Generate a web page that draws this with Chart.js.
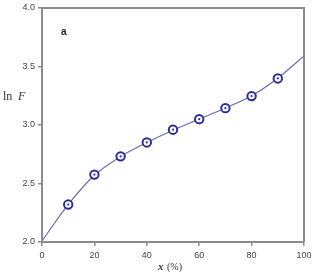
<!DOCTYPE html>
<html>
<head>
<meta charset="utf-8">
<script src="https://cdn.jsdelivr.net/npm/chart.js@4.4.0/dist/chart.umd.min.js"></script>
<style>
  html, body { margin: 0; padding: 0; background: #fff; }
  #wrap { width: 313px; height: 272px; position: relative; }
</style>
</head>
<body>
<div id="wrap"><canvas id="myChart"></canvas></div>
<script>
// fitted curve
var xCurve = [0, 10, 20, 30, 40, 50, 60, 70, 80, 90, 100];
var lnFCurve = [2.01, 2.32, 2.57, 2.73, 2.85, 2.955, 3.05, 3.145, 3.25, 3.40, 3.59];

// measured points
var xMeasured = [10, 20, 30, 40, 50, 60, 70, 80, 90];
var lnFMeasured = [2.32, 2.576, 2.732, 2.851, 2.96, 3.05, 3.144, 3.247, 3.398];

var xTicks = [0, 20, 40, 60, 80, 100];
var yTicks = [2.0, 2.5, 3.0, 3.5, 4.0];

function toPoints(xs, ys) {
    return xs.map(function (x, i) { return { x: x, y: ys[i] }; });
}

var axisGray = '#8c8c8c';

// frame + labels
var textPlugin = {
    id: 'textPlugin',
    afterDraw: function (chart) {
        var c = chart.ctx, a = chart.chartArea;
        c.save();
        c.strokeStyle = axisGray;
        c.lineWidth = 2;
        c.beginPath();
        c.moveTo(a.left, a.top);
        c.lineTo(a.right, a.top);
        c.lineTo(a.right, a.bottom);
        c.stroke();

        c.fillStyle = '#222';
        c.font = 'bold 10px "Liberation Sans", Arial, sans-serif';
        c.textAlign = 'left';
        c.textBaseline = 'middle';
        c.fillText('a', 61, 32);

        c.fillStyle = '#333';
        c.font = '12px "Liberation Serif", "DejaVu Serif", serif';
        c.fillText('ln', 3, 97);
        c.font = 'italic 12px "Liberation Serif", "DejaVu Serif", serif';
        c.fillText('F', 18, 97);

        c.font = 'italic bold 11px "Liberation Serif", "DejaVu Serif", serif';
        c.fillText('x', 158, 267);
        c.font = '10px "Liberation Serif", "DejaVu Serif", serif';
        c.fillText('(%)', 167, 267);
        c.restore();
    }
};

var ctx = document.getElementById('myChart');
var chart = new Chart(ctx, {
    type: 'scatter',
    data: {
        datasets: [{
            label: 'fit',
            data: toPoints(xCurve, lnFCurve),
            showLine: true,
            borderColor: '#6b6bb0',
            borderWidth: 1.2,
            cubicInterpolationMode: 'monotone',
            pointRadius: 0,
            order: 3
        }, {
            label: 'measured',
            data: toPoints(xMeasured, lnFMeasured),
            showLine: false,
            pointRadius: 4.2,
            pointBorderWidth: 2,
            pointBorderColor: '#2b2b9e',
            pointBackgroundColor: '#fff',
            order: 2
        }, {
            label: 'dots',
            data: toPoints(xMeasured, lnFMeasured),
            showLine: false,
            pointRadius: 1.1,
            pointBorderWidth: 0,
            pointBackgroundColor: '#2b2b9e',
            order: 1
        }]
    },
    options: {
        responsive: true,
        maintainAspectRatio: false,
        animation: false,
        events: [],
        layout: { padding: { top: 8, right: 9, left: 0, bottom: 0 } },
        plugins: { legend: { display: false }, tooltip: { enabled: false } },
        scales: {
            x: {
                type: 'linear',
                min: 0,
                max: 100,
                afterBuildTicks: function (s) { s.ticks = xTicks.map(function (v) { return { value: v }; }); },
                afterFit: function (s) { s.height = 30; s.paddingLeft = 0; s.paddingRight = 0; },
                grid: { drawOnChartArea: false, tickLength: 4, color: axisGray, lineWidth: 1.5 },
                border: { color: axisGray, width: 2 },
                ticks: {
                    color: '#444',
                    padding: 4,
                    maxRotation: 0,
                    font: { size: 9, family: '"Liberation Sans", Arial, sans-serif' },
                    callback: function (v) { return v; }
                }
            },
            y: {
                type: 'linear',
                min: 2,
                max: 4,
                afterBuildTicks: function (s) { s.ticks = yTicks.map(function (v) { return { value: v }; }); },
                afterFit: function (s) { s.width = 42; s.paddingTop = 0; s.paddingBottom = 0; },
                grid: { drawOnChartArea: false, tickLength: 4, color: axisGray, lineWidth: 1.5 },
                border: { color: axisGray, width: 2 },
                ticks: {
                    color: '#444',
                    padding: 3,
                    font: { size: 9, family: '"Liberation Sans", Arial, sans-serif' },
                    callback: function (v) { return v.toFixed(1); }
                }
            }
        }
    },
    plugins: [textPlugin]
});
</script>
</body>
</html>
